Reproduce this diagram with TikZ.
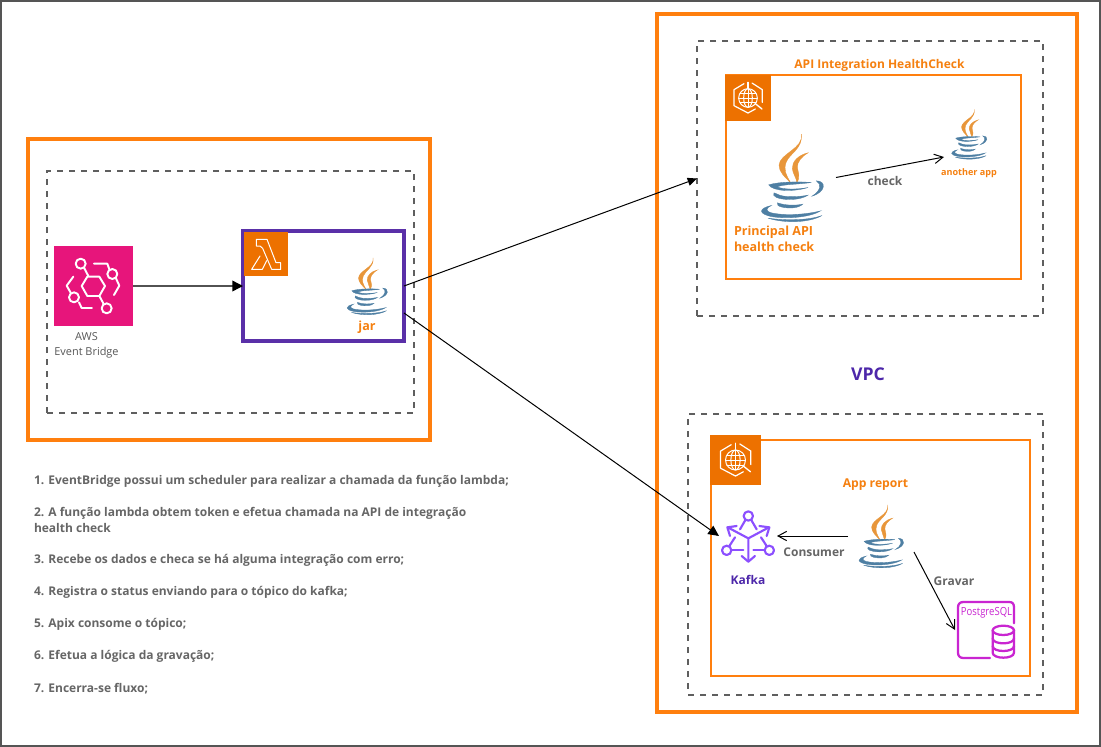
\documentclass[tikz,border=0pt]{standalone}
\usepackage{fontspec}
\setmainfont{Open Sans}
\usetikzlibrary{arrows.meta}
\definecolor{frameorange}{HTML}{FF7F0E}
\definecolor{awsorange}{HTML}{ED7100}
\definecolor{txtorange}{HTML}{F58010}
\definecolor{txtgray}{HTML}{666666}
\definecolor{dashgray}{HTML}{5F5F5F}
\definecolor{edgegray}{HTML}{555555}
\definecolor{lambdapurple}{HTML}{5A30A8}
\definecolor{vpcpurple}{HTML}{4D27AA}
\definecolor{kafkapurple}{HTML}{8C4FFF}
\definecolor{ebpink}{HTML}{E7157B}
\definecolor{pgpink}{HTML}{C925D1}
\definecolor{steam}{HTML}{E8963A}
\definecolor{cupblue}{HTML}{4E7FA3}
\newcommand{\pxbox}[6]{\node[#2,minimum width={(#5-#3)*.75pt},minimum height={(#6-#4)*.75pt},inner sep=0pt,outer sep=0pt] (#1) at ({(#3+#5)/2},{(#4+#6)/2}) {};}
\newcommand{\fs}[1]{\fontsize{#1}{#1}\selectfont}
\tikzset{
  outerbox/.style={draw=frameorange,line width=3pt},
  zonebox/.style={draw=dashgray,line width=1.6pt,dash pattern=on 4.5pt off 4.5pt},
  appbox/.style={draw=frameorange,line width=1.5pt},
  fnbox/.style={draw=lambdapurple,line width=3pt},
  tile/.style={fill=awsorange},
  ebtile/.style={fill=ebpink},
  ghost/.style={},
  lbl/.style={inner sep=0pt,outer sep=0pt,align=center},
  boldorange/.style={lbl,text=txtorange,font=\bfseries\fs{9.4}},
  boldgray/.style={lbl,text=txtgray,font=\bfseries\fs{9}},
  step text/.style={lbl,anchor=west,align=left,text=txtgray,font=\bfseries\fs{9}},
  thinarrow/.style={draw=black,line width=.75pt,-{Straight Barb[length=6.5pt,width=7pt]}},
  bigarrow/.style={draw=black,line width=.75pt,-{Triangle[length=8pt,width=7.5pt]}},
  icon/.style={draw=white,line width=1.45pt,line cap=round,line join=round},
  javaicon/.pic={
    \begin{scope}[x=.25pt,y=-.25pt,shift={(-232,-352)}]
      \filldraw[steam,line width=.25pt] (260,222) .. controls (268,265) and (195,280) .. (193,315) .. controls (193,335) and (210,350) .. (228,368) .. controls (215,345) and (205,330) .. (215,305) .. controls (225,280) and (265,265) .. (260,222) -- cycle;
      \filldraw[steam,line width=.25pt] (280,278) .. controls (250,285) and (232,305) .. (233,325) .. controls (234,340) and (245,352) .. (247,368) .. controls (258,350) and (250,335) .. (248,322) .. controls (247,305) and (262,288) .. (280,278) -- cycle;
      \filldraw[cupblue,line width=.25pt] (162,374) .. controls (195,364) and (255,364) .. (290,367) .. controls (250,373) and (205,372) .. (188,380) .. controls (205,389) and (250,388) .. (280,382) .. controls (240,395) and (175,395) .. (162,374) -- cycle;
      \filldraw[cupblue,line width=.25pt] (305,362) .. controls (335,362) and (335,395) .. (292,408) .. controls (318,392) and (322,372) .. (305,362) -- cycle;
      \filldraw[cupblue,line width=.25pt] (178,398) .. controls (170,408) and (190,418) .. (225,418) .. controls (250,418) and (270,412) .. (280,405) .. controls (255,410) and (215,412) .. (195,405) .. controls (190,403) and (185,400) .. (178,398) -- cycle;
      \filldraw[cupblue,line width=.25pt] (188,428) .. controls (182,440) and (215,445) .. (235,443) .. controls (248,442) and (258,438) .. (264,432) .. controls (245,436) and (215,437) .. (188,428) -- cycle;
      \filldraw[cupblue,line width=.25pt] (170,436) .. controls (130,445) and (130,462) .. (175,470) .. controls (225,477) and (290,470) .. (318,452) .. controls (280,462) and (215,468) .. (170,458) .. controls (150,452) and (155,443) .. (170,436) -- cycle;
      \filldraw[cupblue,line width=.25pt] (160,474) .. controls (210,490) and (285,488) .. (322,466) .. controls (285,480) and (215,482) .. (160,474) -- cycle;
    \end{scope}
  },
  globeicon/.pic={
    \begin{scope}[x=.25pt,y=-.25pt,shift={(-100,-115)}]
      \draw[icon,line width=.9pt] (88,72) -- (58,90) -- (58,138) -- (100,160) -- (122,148);
      \draw[icon,line width=.9pt] (112,70) -- (143,90) -- (143,128);
      \draw[icon,line width=.9pt] (100,68) -- (100,85);
      \draw[icon,line width=.75pt] (100,115) circle[radius=28];
      \draw[icon,line width=.75pt] (100,115) ellipse[x radius=13,y radius=28];
      \draw[icon,line width=.75pt] (72,115) -- (128,115) (76,101) -- (124,101) (76,129) -- (124,129) (100,87) -- (100,143);
      \draw[icon,line width=1pt] (122,132) -- (142,148);
    \end{scope}
  }
}
\begin{document}
\begin{tikzpicture}[x=.75pt,y=-.75pt]
\useasboundingbox (0,0) rectangle (1101,747);
\fill[white] (0,0) rectangle (1101,747);
\draw[edgegray,line width=1.5pt] (.7,.7) rectangle (1100.3,746.3);

% left group
\pxbox{leftOuter}{outerbox}{28}{139}{430}{440}
\pxbox{leftZone}{zonebox}{47}{171}{414}{413}
\pxbox{eb}{ebtile}{54}{246}{133}{326}
\begin{scope}[shift={(30,220)},x=.25pt,y=-.25pt]
  \draw[icon] (155,198) -- (172,170) -- (208,170) -- (225,198) -- (208,228) -- (172,228) -- cycle;
  \draw[icon] (152,131) circle[radius=15] (247,162) circle[radius=15] (132,232) circle[radius=15] (230,265) circle[radius=15];
  \draw[icon] (162,143) -- (175,168) (208,228) -- (220,250);
  \draw[icon] (192,131) -- (232,131) -- (238,148);
  \draw[icon] (258,175) -- (268,197) -- (252,225);
  \draw[icon] (130,170) -- (110,197) -- (122,218);
  \draw[icon] (147,247) -- (155,264) -- (186,264);
\end{scope}
\node[lbl,text=txtgray!85!black,font=\fs{8.2},align=center] (ebLabel) at (86.5,345.5) {AWS\\[3.2pt]Event Bridge};
\pxbox{fn}{fnbox}{243}{231}{404}{341}
\pxbox{fnTile}{tile}{244}{232}{288}{276}
\begin{scope}[shift={(30,220)},x=.25pt,y=-.25pt]
  \draw[icon,line width=.75pt] (679,58) -- (711,58) -- (738,128) -- (752,128) -- (752,148) -- (725,148) -- (698,85) -- (690,78) -- (679,78) -- cycle;
  \draw[icon,line width=.75pt] (690,108) -- (665,148) -- (697,148) -- (710,122);
\end{scope}
\pxbox{jarIcon}{ghost}{347}{257}{387}{315}
\pic[scale=.65] at (jarIcon.center) {javaicon};
\node[boldorange] (jarLabel) at (367,327.5) {jar};

% VPC
\pxbox{vpc}{outerbox}{657}{14}{1077}{712}
\node[lbl,text=vpcpurple,font=\bfseries\fs{13.2}] (vpcLabel) at (868,374) {VPC};

% API zone
\pxbox{apiZone}{zonebox}{697}{41}{1043}{316}
\pxbox{apiBox}{appbox}{726}{75}{1021}{279}
\pxbox{apiTile}{tile}{725}{75}{771}{121}
\pic at (apiTile.center) {globeicon};
\node[boldorange,font=\bfseries\fs{9}] (apiTitle) at (879.5,65.5) {API Integration HealthCheck};
\pxbox{javaMain}{ghost}{748}{133}{836}{222}
\pic at (javaMain.center) {javaicon};
\node[boldorange,anchor=north west,align=left] (mainLabel) at (734,225.5) {Principal API\\[2.6pt]health check};
\pxbox{javaApp}{ghost}{944}{111}{994}{157}
\pic[scale=.57] at (javaApp.center) {javaicon};
\node[lbl,text=txtorange,font=\bfseries\fs{6.8}] (appLabel) at (969,173) {another app};
\node[boldgray] (checkLabel) at (885,181) {check};

% report zone
\pxbox{repZone}{zonebox}{688}{414}{1043}{695}
\pxbox{repBox}{appbox}{711}{440}{1030}{676}
\pxbox{repTile}{tile}{710}{435}{761}{485}
\pic[scale=1.07] at (repTile.center) {globeicon};
\node[boldorange,font=\bfseries\fs{9.1}] (repTitle) at (875.5,485) {App report};
\pxbox{javaRep}{ghost}{848}{520}{914}{552}
\pic[scale=.72] at (javaRep.center) {javaicon};
\pxbox{kafka}{ghost}{719}{507}{777}{565}
\begin{scope}[shift={(700,430)},x=.25pt,y=-.25pt,every path/.append style={draw=kafkapurple,line width=1.6pt,line cap=round,line join=round}]
  \path (145,258) circle[radius=14] (80,361) circle[radius=14] (208,361) circle[radius=14];
  \path (145,325) -- (85,293) (145,325) -- (205,293) (145,325) -- (145,395);
  \path (110,288) -- (82,292) -- (90,318) (178,288) -- (208,292) -- (200,318) (125,378) -- (145,395) -- (165,378);
  \path (135,272) -- (120,298) (155,272) -- (170,298);
  \path (95,361) -- (130,361) (160,361) -- (193,361);
  \path (88,348) -- (105,322) (200,348) -- (183,322);
\end{scope}
\node[lbl,text=vpcpurple,font=\bfseries\fs{9}] (kafkaLabel) at (748,580) {Kafka};
\node[boldgray] (consumerLabel) at (814,552.5) {Consumer};
\node[boldgray] (gravarLabel) at (954,581.5) {Gravar};
\pxbox{pg}{ghost}{955}{602}{1017}{658}
\begin{scope}[shift={(700,430)},x=.25pt,y=-.25pt,every path/.append style={draw=pgpink,line width=1.7pt,line cap=round,line join=round}]
  \path (942,580) -- (942,532) .. controls (942,522) and (938,516) .. (928,516) -- (790,516) .. controls (780,516) and (774,522) .. (774,532) -- (774,668) .. controls (774,678) and (780,684) .. (790,684) -- (870,684);
  \path (910,601) ellipse[x radius=32,y radius=14];
  \path (878,601) -- (878,668) .. controls (878,688) and (942,688) .. (942,668) -- (942,601);
  \path (878,625) .. controls (878,645) and (942,645) .. (942,625);
  \path (878,648) .. controls (878,668) and (942,668) .. (942,648);
\end{scope}
\node[lbl,text=pgpink,font=\fs{8.4},xscale=.85] (pgLabel) at (986.5,613) {PostgreSQL};

% connectors
\draw[draw=txtgray!80!black,line width=1.1pt,-{Triangle[length=8pt,width=8pt,color=black]}] (eb.east) -- (fn.west);
\draw[thinarrow,-{Triangle[length=7pt,width=6pt]}] (fn.east) -- (apiZone.west);
\draw[bigarrow] ([yshift=-20.25pt]fn.east) -- (kafka.west);
\draw[thinarrow] (javaMain.east) -- (javaApp.south west);
\draw[thinarrow] (javaRep.west) -- (kafka.east);
\draw[thinarrow] (javaRep.south east) -- (pg.west);

% steps
\node[step text] (s1) at (34,481) {1. EventBridge possui um scheduler para realizar a chamada da função lambda;};
\node[step text] (s2) at (34,520) {2. A função lambda obtem token e efetua chamada na API de integração\\[2.6pt]health check};
\node[step text] (s3) at (34,560.5) {3. Recebe os dados e checa se há alguma integração com erro;};
\node[step text] (s4) at (34,592.5) {4. Registra o status enviando para o tópico do kafka;};
\node[step text] (s5) at (34,624.5) {5. Apix consome o tópico;};
\node[step text] (s6) at (34,656.5) {6. Efetua a lógica da gravação;};
\node[step text] (s7) at (34,688.5) {7. Encerra-se fluxo;};
\end{tikzpicture}
\end{document}
